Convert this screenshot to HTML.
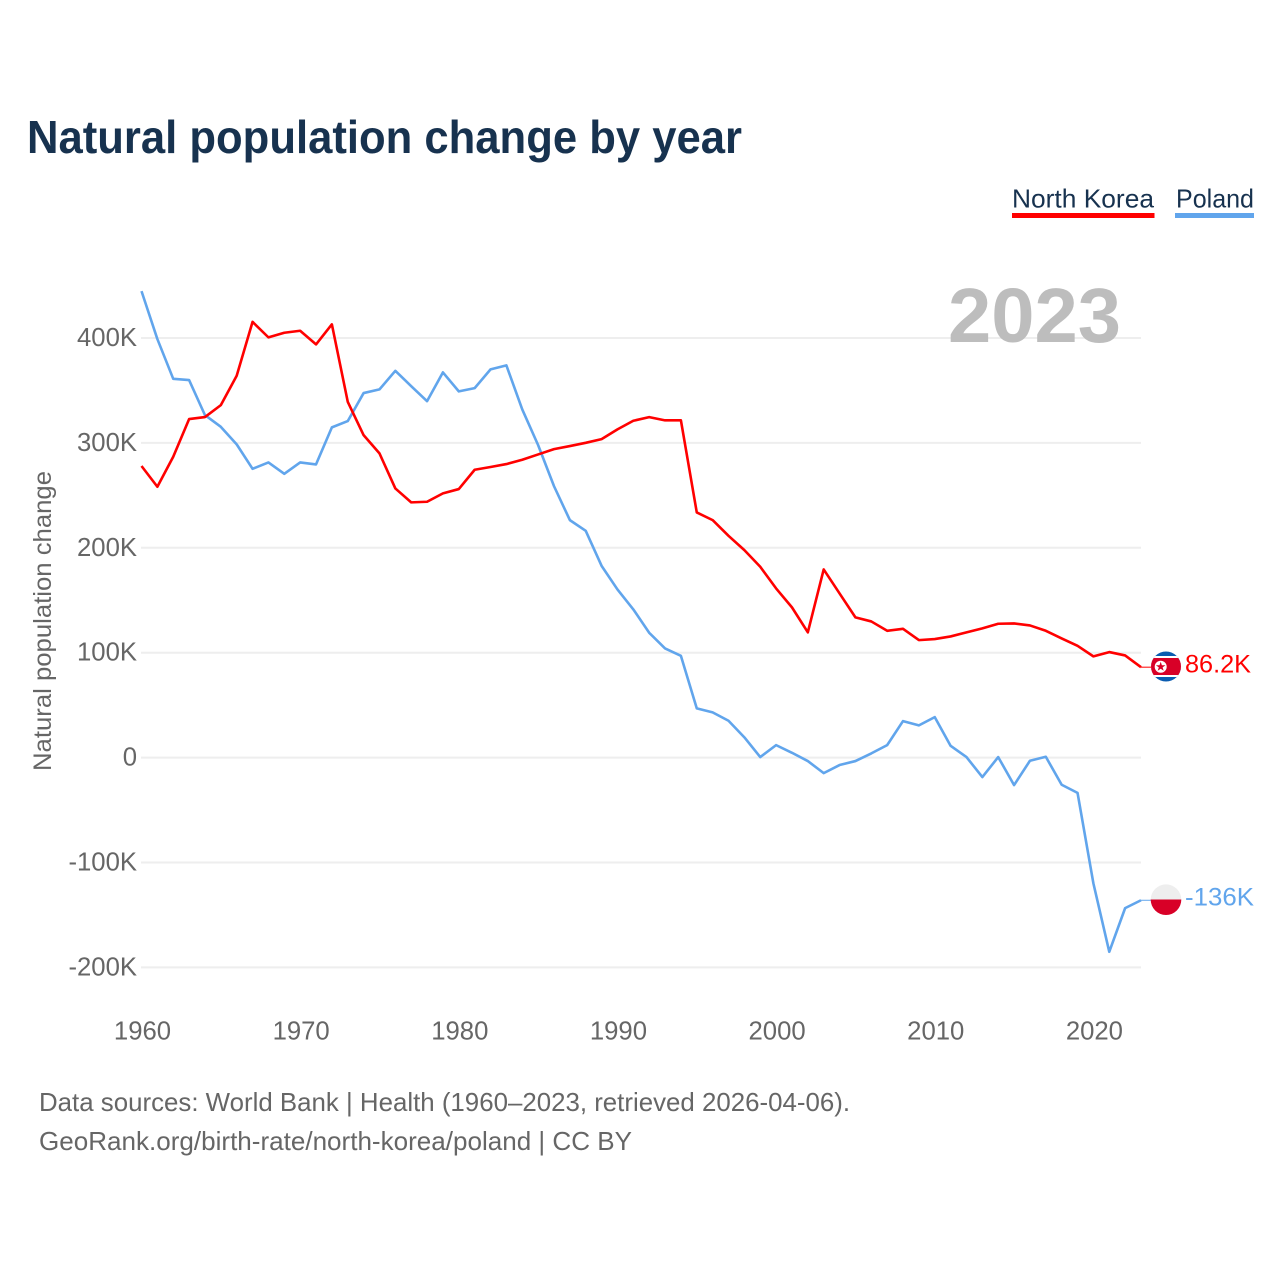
<!DOCTYPE html>
<html lang="en">
<head>
<meta charset="utf-8">
<title>Natural population change by year</title>
<style>
html,body{margin:0;padding:0;background:#fff;}
body{width:1280px;height:1280px;overflow:hidden;}
svg{display:block;}
text{font-family:"Liberation Sans",sans-serif;}
</style>
</head>
<body>
<svg id="chart" xmlns="http://www.w3.org/2000/svg" width="1280" height="1280" viewBox="0 0 1280 1280">
  <rect x="0" y="0" width="1280" height="1280" fill="#ffffff"/>
  <text x="27" y="153" font-size="46" font-weight="700" fill="#17324f" textLength="715" lengthAdjust="spacingAndGlyphs">Natural population change by year</text>

  <g>
    <text x="1012" y="207.5" font-size="26" fill="#17324f" textLength="142" lengthAdjust="spacingAndGlyphs">North Korea</text>
    <rect x="1012" y="213" width="142.5" height="5" fill="#ff0000"/>
  </g>
  <g>
    <text x="1176" y="207.5" font-size="26" fill="#17324f" textLength="78" lengthAdjust="spacingAndGlyphs">Poland</text>
    <rect x="1175" y="213" width="79" height="5" fill="#61a5ec"/>
  </g>

  <g id="grid"></g>
  <text x="948" y="342" font-size="77" font-weight="700" fill="#bdbdbd" textLength="173" lengthAdjust="spacingAndGlyphs">2023</text>
  <g id="yticks"></g>
  <g id="xticks"></g>
  <text transform="translate(51,621) rotate(-90)" text-anchor="middle" font-size="25" fill="#666666" textLength="300" lengthAdjust="spacingAndGlyphs">Natural population change</text>

  <g id="series"></g>

  <g id="flag-north-korea">
    <clipPath id="clip-nk"><circle cx="1166" cy="666.5" r="15"/></clipPath>
    <g clip-path="url(#clip-nk)">
      <rect x="1151" y="651" width="30" height="31" fill="#0a5cb0"/>
      <rect x="1151" y="656" width="30" height="21" fill="#ffffff"/>
      <rect x="1151" y="658" width="30" height="17" fill="#d80027"/>
    </g>
    <circle cx="1160.7" cy="666.7" r="6" fill="#ffffff"/>
    <polygon points="1160.7,661.7 1161.9,665.2 1165.5,665.2 1162.6,667.4 1163.7,670.8 1160.7,668.8 1157.7,670.8 1158.8,667.4 1155.9,665.2 1159.5,665.2" fill="#d80027"/>
  </g>
  <g id="flag-poland">
    <clipPath id="clip-pl"><circle cx="1166" cy="899.7" r="15.3"/></clipPath>
    <g clip-path="url(#clip-pl)">
      <rect x="1150" y="884" width="32" height="15.5" fill="#eeeeee"/>
      <rect x="1150" y="899.5" width="32" height="16" fill="#d80027"/>
    </g>
  </g>

  <text id="label-nk" x="1185" y="672.5" font-size="25" fill="#ff0000" textLength="66" lengthAdjust="spacingAndGlyphs">86.2K</text>
  <text id="label-pl" x="1185" y="905.5" font-size="25" fill="#61a5ec" textLength="69" lengthAdjust="spacingAndGlyphs">-136K</text>

  <text x="39" y="1111" font-size="26" fill="#666666" textLength="811" lengthAdjust="spacingAndGlyphs">Data sources: World Bank | Health (1960–2023, retrieved 2026-04-06).</text>
  <text x="39" y="1150" font-size="26" fill="#666666" textLength="593" lengthAdjust="spacingAndGlyphs">GeoRank.org/birth-rate/north-korea/poland | CC BY</text>
</svg>
<script>
// Years along the x axis
var years = [1960,1961,1962,1963,1964,1965,1966,1967,1968,1969,
             1970,1971,1972,1973,1974,1975,1976,1977,1978,1979,
             1980,1981,1982,1983,1984,1985,1986,1987,1988,1989,
             1990,1991,1992,1993,1994,1995,1996,1997,1998,1999,
             2000,2001,2002,2003,2004,2005,2006,2007,2008,2009,
             2010,2011,2012,2013,2014,2015,2016,2017,2018,2019,
             2020,2021,2022,2023];
// Natural population change, thousands
var northKorea = [278,258.2,286.8,322.7,324.6,336,364,415.4,400.6,405,
                  406.9,393.9,413,339.2,307.4,290,256.6,243.3,243.9,251.9,
                  256,274.4,277,279.8,283.9,289,294.1,297,300.1,303.6,
                  312.9,321.1,324.6,321.5,321.5,233.7,226.4,211.4,197.8,181.9,
                  161.3,143.2,119.4,179.4,156.5,133.7,129.8,120.9,122.8,112,
                  113,115.5,119.4,123.2,127.6,127.9,126,120.9,113.6,106.6,
                  96.5,100.6,97.4,86.2];
var poland = [444.7,399,361.1,359.9,326.5,315.3,298.6,275.3,281.4,270.5,
              281.4,279.5,314.8,320.8,347.5,351,368.7,354.1,339.8,367.2,
              349.1,352.2,370.1,373.9,331.9,297.9,258.8,226.4,216.2,182.8,
              160.3,141.3,119,104.1,97,46.9,43.1,35.1,19.3,0.5,
              11.9,4.6,-3.3,-14.8,-7.1,-3.3,4,11.9,34.8,30.7,
              38.6,11.2,0.5,-18.6,0.5,-26.2,-3,0.8,-25.9,-33.6,
              -119.9,-185.1,-143.5,-136];
// Axis ticks
var yTickValues = [400,300,200,100,0,-100,-200];
var yTickLabels = ["400K","300K","200K","100K","0","-100K","-200K"];
var xTickValues = [1960,1970,1980,1990,2000,2010,2020];

var NS = 'http://www.w3.org/2000/svg';
function xScale(year){ return 141.5 + (year - 1960) * (1141 - 141.5) / (2023 - 1960); }
function yScale(v){ return 757.6 - v * 1.049; }

var grid = document.getElementById('grid');
var yticksG = document.getElementById('yticks');
yTickValues.forEach(function(v, i){
  var line = document.createElementNS(NS, 'line');
  
  
  line.setAttribute('x1', 141);
  line.setAttribute('x2', 1141);
  line.setAttribute('y1', yScale(v));
  line.setAttribute('y2', yScale(v));
  line.setAttribute('stroke', '#eeeeee');
  line.setAttribute('stroke-width', 2);
  grid.appendChild(line);

  var t = document.createElementNS(NS, 'text');
  
  
  t.setAttribute('x', 137);
  t.setAttribute('y', yScale(v) + 8);
  t.setAttribute('text-anchor', 'end');
  t.setAttribute('font-size', 25.7);
  t.setAttribute('fill', '#666666');
  t.textContent = yTickLabels[i];
  yticksG.appendChild(t);
});

var xticksG = document.getElementById('xticks');
xTickValues.forEach(function(y){
  var t = document.createElementNS(NS, 'text');
  
  
  t.setAttribute('x', xScale(y) + 1);
  t.setAttribute('y', 1039.5);
  t.setAttribute('text-anchor', 'middle');
  t.setAttribute('font-size', 25.7);
  t.setAttribute('fill', '#666666');
  t.textContent = String(y);
  xticksG.appendChild(t);
});

function linePath(values){
  return values.map(function(v, i){
    return (i ? 'L' : 'M') + xScale(years[i]).toFixed(2) + ' ' + yScale(v).toFixed(2);
  }).join(' ');
}
var seriesG = document.getElementById('series');

var polandLine = document.createElementNS(NS, 'path');


polandLine.setAttribute('d', linePath(poland));
polandLine.setAttribute('fill', 'none');
polandLine.setAttribute('stroke', '#61a5ec');
polandLine.setAttribute('stroke-width', 2.6);
polandLine.setAttribute('stroke-linejoin', 'round');
seriesG.appendChild(polandLine);

var koreaLine = document.createElementNS(NS, 'path');


koreaLine.setAttribute('d', linePath(northKorea));
koreaLine.setAttribute('fill', 'none');
koreaLine.setAttribute('stroke', '#ff0000');
koreaLine.setAttribute('stroke-width', 2.6);
koreaLine.setAttribute('stroke-linejoin', 'round');
seriesG.appendChild(koreaLine);

var lastIdx = years.length - 1;
var koreaConn = document.createElementNS(NS, 'line');


koreaConn.setAttribute('x1', xScale(years[lastIdx]));
koreaConn.setAttribute('x2', 1151);
koreaConn.setAttribute('y1', yScale(northKorea[lastIdx]));
koreaConn.setAttribute('y2', yScale(northKorea[lastIdx]));
koreaConn.setAttribute('stroke', '#ff0000');
koreaConn.setAttribute('stroke-width', 1);
seriesG.appendChild(koreaConn);

var polandConn = document.createElementNS(NS, 'line');


polandConn.setAttribute('x1', xScale(years[lastIdx]));
polandConn.setAttribute('x2', 1151);
polandConn.setAttribute('y1', yScale(poland[lastIdx]));
polandConn.setAttribute('y2', yScale(poland[lastIdx]));
polandConn.setAttribute('stroke', '#61a5ec');
polandConn.setAttribute('stroke-width', 1);
seriesG.appendChild(polandConn);
</script>
</body>
</html>
